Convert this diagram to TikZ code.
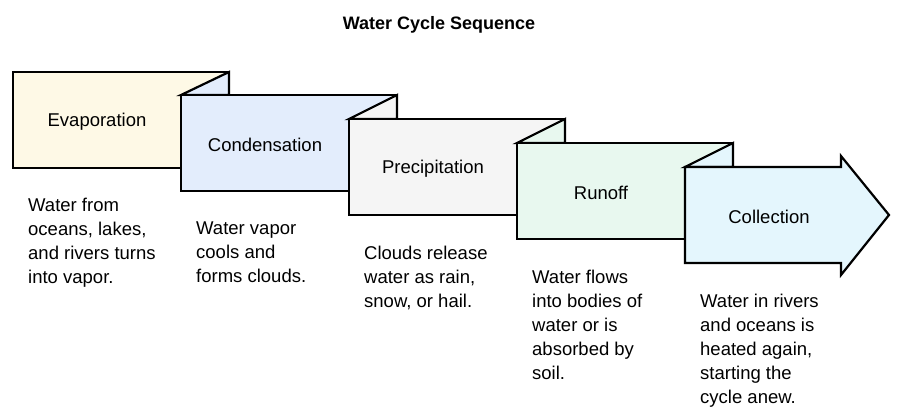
\documentclass[tikz,border=0pt]{standalone}
\usepackage{fontspec}
\setmainfont{Liberation Sans}
\definecolor{cevap}{HTML}{FEF9E6}
\definecolor{ccond}{HTML}{E3EDFC}
\definecolor{cprec}{HTML}{F5F5F5}
\definecolor{crun}{HTML}{E8F8EF}
\definecolor{ccoll}{HTML}{E4F6FD}
\tikzset{
  stepshape/.style={draw=black, line width=2.2pt, line join=miter},
  lbl/.style={inner sep=0pt, font=\fontsize{18.5}{24}\selectfont},
  desc/.style={inner sep=0pt, anchor=north west, align=left, font=\fontsize{18.5}{24}\selectfont},
  ttl/.style={inner sep=0pt, font=\fontsize{18}{22}\selectfont\bfseries}
}
\begin{document}
\begin{tikzpicture}[x=1pt,y=-1pt]
\useasboundingbox (0,0) rectangle (903,420);
\node[ttl] (title) at (439,25) {Water Cycle Sequence};
% box 1
\filldraw[stepshape, fill=cevap] (13,72) rectangle (229,168);
% box 2
\filldraw[stepshape, fill=ccond] (181,95) -- (229,72) -- (229,95) -- cycle;
\filldraw[stepshape, fill=ccond] (181,95) rectangle (397,191);
% box 3
\filldraw[stepshape, fill=cprec] (349,119) -- (397,95) -- (397,119) -- cycle;
\filldraw[stepshape, fill=cprec] (349,119) rectangle (565,215);
% box 4
\filldraw[stepshape, fill=crun] (517,143) -- (565,119) -- (565,143) -- cycle;
\filldraw[stepshape, fill=crun] (517,143) rectangle (733,239);
% box 5 arrow
\filldraw[stepshape, fill=ccoll] (685,167) -- (733,143) -- (733,167) -- cycle;
\filldraw[stepshape, fill=ccoll] (685,167) -- (841,167) -- (841,156) -- (889,215) -- (841,275) -- (841,263) -- (685,263) -- cycle;
% labels
\node[lbl] (l1) at (97,122) {Evaporation};
\node[lbl] (l2) at (265,145) {Condensation};
\node[lbl] (l3) at (433,169) {Precipitation};
\node[lbl] (l4) at (601,193) {Runoff};
\node[lbl] (l5) at (769,217) {Collection};
% descriptions
\node[desc] (d1) at (28,198) {Water from\\oceans, lakes,\\and rivers turns\\into vapor.};
\node[desc] (d2) at (196,222) {Water vapor\\cools and\\forms clouds.};
\node[desc] (d3) at (364,246) {Clouds release\\water as rain,\\snow, or hail.};
\node[desc] (d4) at (532,270) {Water flows\\into bodies of\\water or is\\absorbed by\\soil.};
\node[desc] (d5) at (700,294) {Water in rivers\\and oceans is\\heated again,\\starting the\\cycle anew.};
\end{tikzpicture}
\end{document}
